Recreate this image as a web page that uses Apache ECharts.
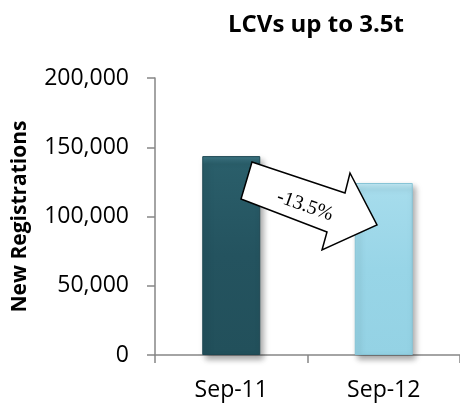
<!DOCTYPE html>
<html>
<head>
<meta charset="utf-8">
<style>
  html, body { margin: 0; padding: 0; background: #fff; }
  #chart { width: 460px; height: 407px; }
</style>
<script src="https://cdn.jsdelivr.net/npm/echarts@6/dist/echarts.min.js"></script>
</head>
<body>
<div id="chart"></div>
<script>
// data
const months = ['Sep-11', 'Sep-12']
const registrations = [143600, 124200]
const changeLabel = '-13.5%'

const chart = echarts.init(document.getElementById('chart'))

// bar styles, dark teal for last year, light blue for this year
const barColors = [
  new echarts.graphic.LinearGradient(0, 0, 0, 1, [
    { offset: 0, color: '#3d7886' },
    { offset: 0.04, color: '#2a5e6a' },
    { offset: 0.5, color: '#24535f' },
    { offset: 1, color: '#22505b' },
  ]),
  new echarts.graphic.LinearGradient(0, 0, 0, 1, [
    { offset: 0, color: '#c4ebf6' },
    { offset: 0.04, color: '#a6dcec' },
    { offset: 0.5, color: '#98d5e7' },
    { offset: 1, color: '#94d2e4' },
  ]),
]

const axisGrey = '#868686'
const labelFont = '"Open Sans", "Liberation Sans", sans-serif'

const option = {
  animation: false,
  title: {
    text: 'LCVs up to 3.5t',
    left: 311,
    textAlign: 'center',
    top: 8,
    textStyle: { fontFamily: labelFont, fontWeight: 'bold', fontSize: 24, color: '#000' },
  },
  grid: { left: 155, right: -3, top: 78, bottom: 52 },
  xAxis: {
    type: 'category',
    data: months,
    axisLine: { lineStyle: { color: axisGrey, width: 1.5 } },
    axisTick: { show: true, length: 8, lineStyle: { color: axisGrey, width: 1.5 } },
    axisLabel: { margin: 24, color: '#000', fontSize: 23, fontFamily: labelFont },
  },
  yAxis: {
    type: 'value',
    min: 0,
    max: 200000,
    interval: 50000,
    name: 'New Registrations',
    nameLocation: 'middle',
    nameGap: 124,
    nameTextStyle: { fontFamily: labelFont, fontWeight: 'bold', fontSize: 21, color: '#000' },
    splitLine: { show: false },
    axisLine: { show: true, lineStyle: { color: axisGrey, width: 1.5 } },
    axisTick: { show: true, length: 8, lineStyle: { color: axisGrey, width: 1.5 } },
    axisLabel: {
      margin: 26,
      color: '#000',
      fontSize: 23,
      fontFamily: labelFont,
      formatter: (v) => v.toLocaleString('en-US'),
    },
  },
  series: [
    {
      type: 'bar',
      barWidth: 58,
      data: registrations.map((v, i) => ({
        value: v,
        itemStyle: {
          color: barColors[i],
          borderColor: i === 0 ? '#1e4752' : '#86c4d6',
          borderWidth: 1,
          shadowColor: 'rgba(0,0,0,0.35)',
          shadowBlur: 6,
          shadowOffsetX: 3,
          shadowOffsetY: 4,
        },
      })),
    },
  ],
  // the change arrow drawn over the bars
  graphic: [
    {
      type: 'polygon',
      z: 100,
      shape: {
        points: [[252, 162], [345, 193], [350, 173], [377, 225], [322, 250], [327, 232], [241, 199]],
      },
      style: { fill: '#fff', stroke: '#000', lineWidth: 1.5 },
    },
    {
      type: 'text',
      z: 101,
      x: 305,
      y: 206,
      rotation: -0.34,
      style: {
        text: changeLabel,
        font: '20px "Liberation Serif", "DejaVu Serif", serif',
        fill: '#000',
        align: 'center',
        verticalAlign: 'middle',
      },
    },
  ],
}

chart.setOption(option)
</script>
</body>
</html>
